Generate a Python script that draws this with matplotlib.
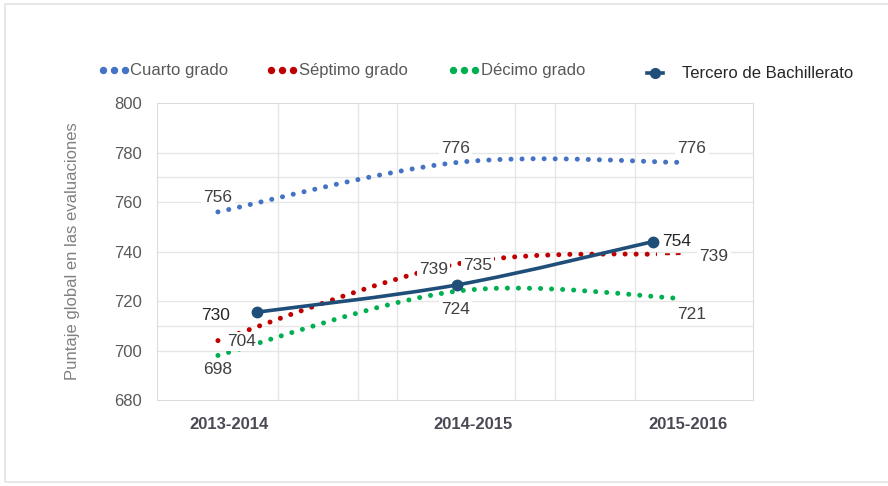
import numpy as np
import matplotlib.pyplot as plt
from matplotlib.path import Path
from matplotlib.patches import PathPatch, Rectangle
from matplotlib.lines import Line2D

plt.rcParams['font.family'] = ['Liberation Sans', 'DejaVu Sans']

years = ['2013-2014', '2014-2015', '2015-2016']
cuarto = [756, 776, 776]
septimo = [704, 735, 739]
decimo = [698, 724, 721]
tercero = [715.5, 726.5, 744]                 # where the line sits on this axis
tercero_labels = ['730', '', '754']           # what the labels say
septimo_extra = '739'                         # stray label next to 735

# layout (x in category units, pixel offsets for labels)
dot_x = [0, 1.03, 2]
ter_x = [0.168, 1.028, 1.871]
tick_x = [0.047, 1.097, 2.022]
vgrid = [0.258, 0.602, 0.770, 1.277, 1.449, 1.794]
hgrid = [700, 710, 720, 740, 760, 770, 780]

W, H = 888, 486
def fx(p): return p / W
def fy(p): return 1 - p / H

def smooth(xs, ys, t=1/6):
    pts = np.column_stack([xs, ys]).astype(float)
    ext = np.vstack([pts[0], pts, pts[-1]])
    verts = [pts[0]]
    codes = [Path.MOVETO]
    for i in range(len(pts) - 1):
        pp, p0, p1, pn = ext[i], ext[i+1], ext[i+2], ext[i+3]
        verts += [p0 + (p1 - pp) * t, p1 - (pn - p0) * t, p1]
        codes += [Path.CURVE4] * 3
    return Path(verts, codes)

c_blue, c_red, c_green, c_navy = '#4472c4', '#c00000', '#00b050', '#1f4e79'
dot_lw = 3.6
dots = (0, (0.01, 2.2))

fig = plt.figure(figsize=(8.88, 4.86), dpi=100)
fig.add_artist(Rectangle((fx(5), fy(482)), 1.2, fy(4) - fy(482), transform=fig.transFigure,
                         fill=False, ec='#e3e3e3', lw=1.2))
ax = fig.add_axes([fx(157), fy(400), fx(753) - fx(157), fy(103) - fy(400)])
ax.set_xlim(-0.262, 2.301)
ax.set_ylim(680, 800)

for v in hgrid:
    ax.axhline(v, color='#e6e6e6', lw=1, zorder=0)
for v in vgrid:
    ax.axvline(v, color='#e6e6e6', lw=1, zorder=0)
for s in ax.spines.values():
    s.set_color('#dcdcdc')

# dotted series
ax.add_patch(PathPatch(smooth(dot_x, cuarto), fill=False, ec=c_blue, lw=dot_lw, ls=dots,
                       capstyle='round', zorder=2))
ax.add_patch(PathPatch(smooth(dot_x, decimo), fill=False, ec=c_green, lw=dot_lw, ls=dots,
                       capstyle='round', zorder=2))
split = (657 - 218) / 232.5
sp1 = PathPatch(smooth(dot_x, septimo), fill=False, ec=c_red, lw=dot_lw, ls=dots,
                capstyle='round', zorder=2)
ax.add_patch(sp1)
sp1.set_clip_path(Rectangle((-1, 600), split + 1, 300, transform=ax.transData))
sp2 = PathPatch(smooth(dot_x, septimo), fill=False, ec=c_red, lw=1.4, ls=(0, (2.5, 3)),
                zorder=2)
ax.add_patch(sp2)
sp2.set_clip_path(Rectangle((split + 0.02, 600), 2, 300, transform=ax.transData))

# Tercero de Bachillerato
ax.add_patch(PathPatch(smooth(ter_x, tercero), fill=False, ec=c_navy, lw=2.6,
                       capstyle='round', zorder=4))
ax.plot(ter_x, tercero, 'o', color=c_navy, ms=7.5, zorder=4)

def label(x, y, txt, dx, dy, color='#404040'):
    ax.annotate(txt, (x, y), xytext=(dx, dy), textcoords='offset pixels', ha='center',
                va='center', fontsize=12.5, color=color, zorder=3,
                bbox=dict(boxstyle='square,pad=0.12', fc='white', ec='none'))

for x, v, (dx, dy) in zip(dot_x, cuarto, [(0, 14), (-2, 14), (9, 14)]):
    label(x, v, str(v), dx, dy)
for x, v, (dx, dy) in zip(dot_x, septimo, [(24, -1), (20, -2), (31, -3)]):
    label(x, v, str(v), dx, dy)
label(dot_x[1], septimo[1], septimo_extra, -24, -6)
for x, v, (dx, dy) in zip(dot_x, decimo, [(0, -14), (-2, -18), (9, -16)]):
    label(x, v, str(v), dx, dy)
for x, v, t, (dx, dy) in zip(ter_x, tercero, tercero_labels, [(-41, -3), (0, 0), (24, 0)]):
    if t:
        ax.annotate(t, (x, v), xytext=(dx, dy), textcoords='offset pixels', ha='center',
                    va='center', fontsize=12.5, color='#262626', zorder=5)

ax.set_yticks(range(680, 801, 20))
ax.set_xticks(tick_x)
ax.set_xticklabels(years, fontweight='bold', color='#4a4a55')
ax.tick_params(axis='x', length=0, pad=12, labelsize=12)
ax.tick_params(axis='y', length=0, pad=11, labelsize=12, labelcolor='#595959')
ax.set_ylabel('Puntaje global en las evaluaciones', fontsize=12, color='#808080')
ax.yaxis.set_label_coords(-0.129, 0.5)

# legend
legend = [('Cuarto grado', c_blue, [103, 114, 125], 130),
          ('Séptimo grado', c_red, [271, 282, 293], 299),
          ('Décimo grado', c_green, [453, 464, 475], 481)]
for name, c, xs, tx in legend:
    fig.add_artist(Line2D([fx(p) for p in xs], [fy(70)] * 3, ls='none', marker='o',
                          ms=4.3, color=c, transform=fig.transFigure))
    fig.text(fx(tx), fy(70), name, va='center', fontsize=12, color='#595959')
fig.add_artist(Line2D([fx(647), fx(663)], [fy(73)] * 2, lw=2.6, color=c_navy,
                      transform=fig.transFigure))
fig.add_artist(Line2D([fx(655)], [fy(73)], ls='none', marker='o', ms=7, color=c_navy,
                      transform=fig.transFigure))
fig.text(fx(682), fy(73), 'Tercero de Bachillerato', va='center', fontsize=12, color='#262626')

fig.savefig('out.png', dpi=100)
